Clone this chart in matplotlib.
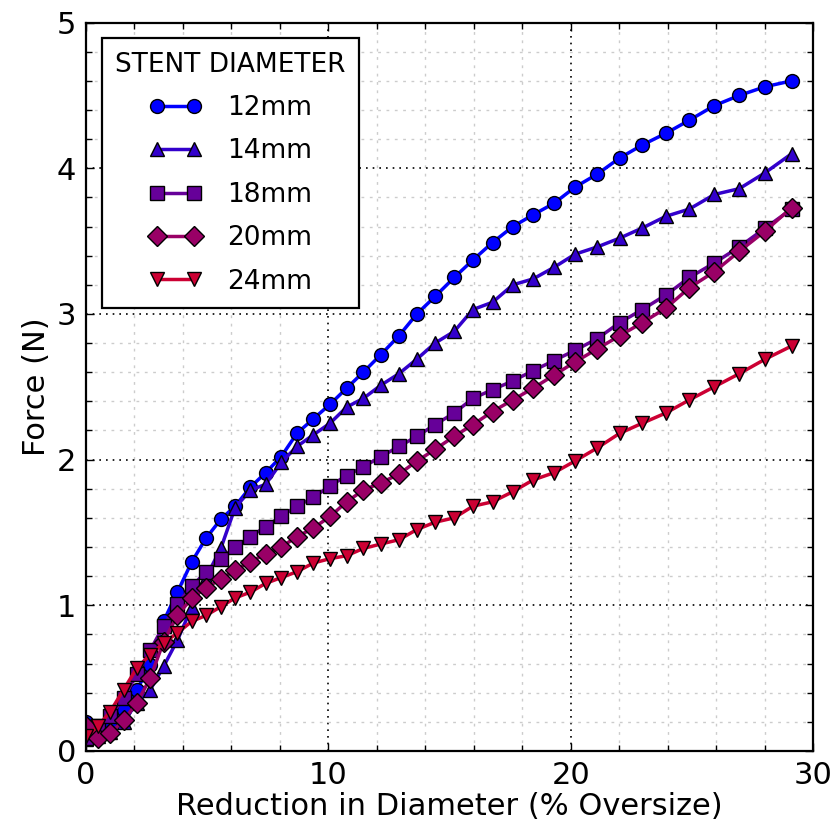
#!/usr/bin/env python3
"""
Radial force vs. diameter reduction for several stent diameters
"""

import matplotlib
matplotlib.use("Agg")
import matplotlib.pyplot as plt
from matplotlib.ticker import MultipleLocator

# shared x positions (% oversize)
oversize = [0.0, 0.5, 1.0, 1.55, 2.1, 2.65, 3.2, 3.77, 4.37, 4.95,
            5.56, 6.15, 6.78, 7.41, 8.05, 8.7, 9.38, 10.07, 10.75, 11.44,
            12.16, 12.91, 13.65, 14.4, 15.19, 15.96, 16.77, 17.61, 18.44, 19.31,
            20.17, 21.09, 22.01, 22.95, 23.92, 24.89, 25.92, 26.95, 28.02, 29.11]

force_12 = [0.20, 0.15, 0.20, 0.28, 0.42, 0.59, 0.89, 1.09, 1.30, 1.46,
            1.59, 1.68, 1.81, 1.91, 2.02, 2.18, 2.28, 2.38, 2.49, 2.60,
            2.72, 2.85, 3.00, 3.12, 3.25, 3.37, 3.49, 3.60, 3.68, 3.76,
            3.87, 3.96, 4.07, 4.16, 4.24, 4.33, 4.43, 4.50, 4.56, 4.60]
force_14 = [0.08, 0.10, 0.13, 0.20, 0.33, 0.42, 0.58, 0.76, 0.99, 1.19,
            1.39, 1.67, 1.79, 1.83, 1.98, 2.09, 2.17, 2.25, 2.36, 2.42,
            2.51, 2.59, 2.69, 2.80, 2.88, 3.03, 3.08, 3.20, 3.24, 3.32,
            3.41, 3.46, 3.52, 3.59, 3.67, 3.72, 3.82, 3.86, 3.97, 4.10]
force_18 = [0.09, 0.17, 0.24, 0.36, 0.53, 0.69, 0.86, 1.01, 1.13, 1.23,
            1.32, 1.40, 1.47, 1.54, 1.61, 1.68, 1.74, 1.82, 1.89, 1.95,
            2.02, 2.09, 2.16, 2.24, 2.32, 2.42, 2.48, 2.54, 2.61, 2.68,
            2.75, 2.83, 2.94, 3.03, 3.13, 3.25, 3.35, 3.46, 3.59, 3.72]
force_20 = [0.17, 0.09, 0.12, 0.21, 0.33, 0.50, 0.75, 0.93, 1.05, 1.12,
            1.18, 1.24, 1.30, 1.35, 1.40, 1.47, 1.53, 1.61, 1.71, 1.79,
            1.84, 1.90, 1.99, 2.07, 2.16, 2.24, 2.33, 2.41, 2.49, 2.58,
            2.67, 2.76, 2.85, 2.94, 3.04, 3.18, 3.29, 3.43, 3.57, 3.73]
force_24 = [0.10, 0.17, 0.27, 0.42, 0.57, 0.66, 0.74, 0.81, 0.89, 0.93,
            0.99, 1.05, 1.09, 1.15, 1.19, 1.23, 1.29, 1.32, 1.34, 1.39,
            1.42, 1.45, 1.52, 1.57, 1.60, 1.68, 1.71, 1.78, 1.86, 1.91,
            1.99, 2.08, 2.18, 2.25, 2.32, 2.41, 2.50, 2.59, 2.69, 2.78]

labels = ["12mm", "14mm", "18mm", "20mm", "24mm"]
colors = ["#0000ff", "#3300cc", "#660099", "#990066", "#cc0033"]
markers = ["o", "^", "s", "D", "v"]
series = [force_12, force_14, force_18, force_20, force_24]

plt.rcParams["font.family"] = "DejaVu Sans"

fig = plt.figure(figsize=(8.35, 8.27), dpi=100)
ax = fig.add_axes([0.103, 0.092, 0.871, 0.8807])

for vals, lab, col, mk in zip(series, labels, colors, markers):
    ax.plot(oversize, vals, color=col, marker=mk, markersize=10,
            markerfacecolor=col, markeredgecolor="black", markeredgewidth=1.0,
            linewidth=2.5, label=lab)

ax.set_xlim(0, 30)
ax.set_ylim(0, 5)
ax.xaxis.set_major_locator(MultipleLocator(10))
ax.xaxis.set_minor_locator(MultipleLocator(2))
ax.yaxis.set_major_locator(MultipleLocator(1))
ax.yaxis.set_minor_locator(MultipleLocator(0.2))

ax.grid(True, which="major", color="black", linestyle=(0, (1, 3)), linewidth=1.2)
ax.grid(True, which="minor", color="#cccccc", linestyle=(0, (2, 4)), linewidth=1.0)
ax.set_axisbelow(True)

ax.tick_params(which="both", direction="in", top=True, right=True, labelsize=22)
ax.tick_params(which="major", length=6, width=1.0, pad=7)
ax.tick_params(which="minor", length=4, width=1.0)
for sp in ax.spines.values():
    sp.set_linewidth(1.6)

ax.set_xlabel("Reduction in Diameter (% Oversize)", fontsize=22, labelpad=2)
ax.set_ylabel("Force (N)", fontsize=22, labelpad=4)

leg = ax.legend(loc="upper left", title="STENT DIAMETER", fontsize=19,
                title_fontsize=19, numpoints=2, fancybox=False,
                framealpha=1.0, edgecolor="black", handlelength=2.0,
                handletextpad=0.95, labelspacing=0.66, borderpad=0.5,
                borderaxespad=0.6)
leg.get_frame().set_linewidth(1.6)

fig.savefig("out.png", dpi=100)
plt.close(fig)
